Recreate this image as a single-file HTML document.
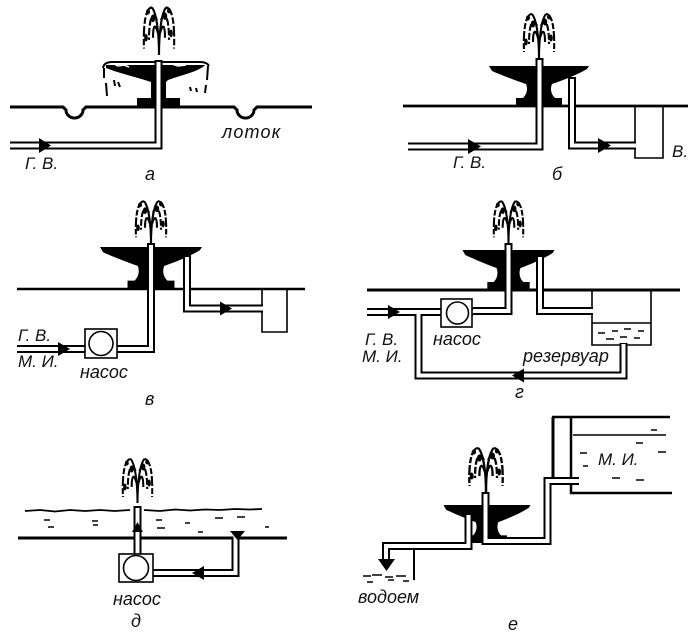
<!DOCTYPE html>
<html><head><meta charset="utf-8"><style>
html,body{margin:0;padding:0;background:#fff;}
svg{display:block;}
text{font-family:"Liberation Sans","DejaVu Sans",sans-serif;font-style:italic;fill:#111;}
.g{stroke:#000;fill:none;}
.po{stroke:#000;fill:none;stroke-width:8;stroke-linejoin:miter;}
.pi{stroke:#fff;fill:none;stroke-width:4;stroke-linejoin:miter;}
</style></head><body>
<svg width="700" height="638" viewBox="0 0 700 638" xmlns="http://www.w3.org/2000/svg">
<defs>
<g id="jet" fill="none" stroke="#000" stroke-width="2.1">
<path d="M0,0 C0,-18 -2,-38 -7,-44"/>
<path d="M0,0 C0,-18 2,-38 7,-44"/>
<path d="M-7,-44 C-13,-44 -16,-30 -15,-6" stroke-dasharray="10 2 6 2"/>
<path d="M7,-44 C13,-44 16,-30 15,-6" stroke-dasharray="10 2 6 2"/>
<path d="M-2,-32 C-5,-40 -10,-38 -10,-14" stroke-dasharray="7 2"/>
<path d="M2,-32 C5,-40 10,-38 10,-14" stroke-dasharray="7 2"/>
<path d="M-1,-20 C-3,-28 -6,-30 -6,-16"/>
<path d="M1,-20 C3,-28 6,-30 6,-16"/>
<ellipse cx="-6" cy="-34" rx="2.2" ry="3.5" fill="#000" stroke="none"/>
<ellipse cx="6" cy="-36" rx="2.2" ry="3.5" fill="#000" stroke="none"/>
<ellipse cx="-13" cy="-16" rx="1.8" ry="3.5" fill="#000" stroke="none"/>
<ellipse cx="12" cy="-20" rx="1.8" ry="3.5" fill="#000" stroke="none"/>
<ellipse cx="-11" cy="-40" rx="2" ry="2.5" fill="#000" stroke="none"/>
<ellipse cx="10" cy="-41" rx="2" ry="2.5" fill="#000" stroke="none"/>
</g>
<path id="bowl" d="M-50,-40 L50,-40 L48,-37 C38,-31 22,-25 13,-22 C11,-17 12,-12 16,-8 L23,-8 L23,0 L-23,0 L-23,-8 L-16,-8 C-12,-12 -11,-17 -13,-22 C-22,-25 -38,-31 -47,-35 Z" fill="#000"/>
</defs>

<!-- ===== Panel а ===== -->
<path class="g" stroke-width="3" d="M10,107 L63,107 L66,110 A8.5,8 0 0 0 83,110 L86,107 L234,107 L237,110 A8.5,8 0 0 0 254,110 L257,107 L312,107"/>
<path d="M106,65 L205,65 C200,71 182,75 168,80 L166,82 L166,98 L180,98 L180,108 L137,108 L137,98 L151,98 L151,82 C140,78 118,73 106,68 Z" fill="#000"/>
<path d="M114,64 l4,2 l6,-1 l5,2 M172,64 l6,2 l8,-1" stroke="#fff" stroke-width="1.5" fill="none"/>
<path class="g" stroke-width="2" d="M103,68 Q104,62 112,62 L200,62 Q207,62 209,66"/>
<path class="g" stroke-width="2" d="M104,68 L104,78 M106,83 L107,96 M208,66 L207,80 M206,85 L205,93 M114,80 l1,6 M118,82 l2,5 M190,87 l1,4 M196,88 l1,4"/>
<path class="po" stroke-width="7" d="M10,145.5 L158.5,145.5 L158.5,60"/>
<path class="pi" stroke-width="3" d="M10,145.5 L158.5,145.5 L158.5,62"/>
<polygon points="39,138 39,153 51,145.5" fill="#000"/>
<use href="#jet" transform="translate(159,55) scale(1,1.08)"/>
<text x="25" y="169" font-size="17">Г. В.</text>
<text x="222" y="138" font-size="18" letter-spacing="1.2">лоток</text>
<text x="145" y="180" font-size="18">а</text>

<!-- ===== Panel б ===== -->
<path class="g" stroke-width="2.8" d="M403,106 L688,106"/>
<use href="#bowl" transform="translate(539,106)"/>
<path class="g" stroke-width="1.6" d="M635,106 L635,158 L663,158 L663,106"/>
<path class="po" d="M408,146.5 L539.5,146.5 L539.5,58"/>
<path class="pi" d="M408,146.5 L539.5,146.5 L539.5,60"/>
<path class="po" d="M572,77 L572,145.5 L636,145.5"/>
<path class="pi" d="M572,79 L572,145.5 L637,145.5"/>
<polygon points="468,139 468,154 481,146.5" fill="#000"/>
<polygon points="598,138 598,153 611,145.5" fill="#000"/>
<use href="#jet" transform="translate(539,58)"/>
<text x="453" y="168" font-size="17">Г. В.</text>
<text x="672" y="157" font-size="17">В.</text>
<text x="552" y="180" font-size="18">б</text>

<!-- ===== Panel в ===== -->
<path class="g" stroke-width="2.5" d="M17,289 L305,289"/>
<use href="#bowl" transform="translate(151,289) scale(1.02,1.05)"/>
<path class="g" stroke-width="1.6" d="M262,289 L262,332 L287,332 L287,289"/>
<path class="po" d="M17,349 L151,349 L151,243"/>
<path class="pi" d="M17,349 L151,349 L151,245"/>
<path class="po" d="M187,255 L187,308.5 L263,308.5"/>
<path class="pi" d="M187,257 L187,308.5 L264,308.5"/>
<rect x="85" y="329" width="32" height="29" fill="#fff" stroke="#000" stroke-width="1.6"/>
<circle cx="101" cy="343.5" r="12" fill="#fff" stroke="#000" stroke-width="1.6"/>
<polygon points="58,342 58,356 70,349" fill="#000"/>
<polygon points="220,301.5 220,315.5 232,308.5" fill="#000"/>
<use href="#jet" transform="translate(151,243) scale(1,0.95)"/>
<text x="18" y="341" font-size="17">Г. В.</text>
<text x="18" y="367" font-size="17">М. И.</text>
<text x="80" y="378" font-size="18">насос</text>
<text x="145" y="405" font-size="18">в</text>

<!-- ===== Panel г ===== -->
<path class="g" stroke-width="3" d="M367,290 L680,290"/>
<use href="#bowl" transform="translate(508.5,290) scale(0.92,1)"/>
<path class="g" stroke-width="1.6" d="M592,290 L592,345 L651,345 L651,290"/>
<path class="g" stroke-width="1.4" d="M592,323 L651,323"/>
<path class="g" stroke-width="1.4" d="M598,333 l7,0 M612,331 l6,0 M624,329 l7,0 M638,331 l6,0 M606,339 l8,0 M620,337 l7,0 M634,338 l6,0"/>
<path class="po" d="M367,312 L473,312 M418.5,312 L418.5,375.5 L623.5,375.5 L623.5,343"/>
<path class="po" d="M473,311 L508.5,311 L508.5,243"/>
<path class="po" d="M540,255 L540,311 L593,311"/>
<path class="pi" d="M367,312 L473,312 M418.5,312 L418.5,375.5 L623.5,375.5 L623.5,344"/>
<path class="pi" d="M473,311 L508.5,311 L508.5,245"/>
<path class="pi" d="M540,257 L540,311 L594,311"/>
<rect x="441" y="299" width="31" height="28" fill="#fff" stroke="#000" stroke-width="1.6"/>
<circle cx="457.5" cy="313" r="11" fill="#fff" stroke="#000" stroke-width="1.6"/>
<polygon points="388,305 388,319 400,312" fill="#000"/>
<polygon points="524,368.5 524,382.5 512,375.5" fill="#000"/>
<use href="#jet" transform="translate(508.5,243) scale(0.97,0.95)"/>
<text x="365" y="345" font-size="17">Г. В.</text>
<text x="362" y="362" font-size="17">М. И.</text>
<text x="433" y="345" font-size="18">насос</text>
<text x="523" y="362" font-size="18">резервуар</text>
<text x="515" y="398" font-size="18">г</text>

<!-- ===== Panel д ===== -->
<path class="g" stroke-width="1.8" d="M25,511 L40,510 L55,511.5 L70,510 L85,511 L100,510 L115,511 L130,510 M144,510 L160,511 L175,509.5 L190,510.5 L205,509.5 L220,510 L235,509 L250,509.5 L262,509"/>
<path class="g" stroke-width="1.6" d="M44,520 l6,0 M48,527 l6,0 M92,521 l6,0 M93,525 l5,0 M156,520 l6,0 M157,528 l8,0 M185,523 l5,0 M198,532 l5,0 M215,518 l8,0 M237,517 l8,0 M265,527 l4,0"/>
<path class="g" stroke-width="3" d="M18,538 L287,538"/>
<path class="po" stroke-width="9" d="M137.5,506 L137.5,556"/>
<path class="pi" d="M137.5,508 L137.5,556"/>
<path class="po" d="M153,573 L235.5,573 L235.5,537"/>
<path class="pi" d="M152,573 L235.5,573 L235.5,536"/>
<polygon points="230,531 245,531 237.5,540" fill="#000"/>
<polygon points="132,532 143,532 137.5,522" fill="#000"/>
<polygon points="204,566 204,580 192,573" fill="#000"/>
<rect x="119" y="554" width="34" height="28" fill="#fff" stroke="#000" stroke-width="1.6"/>
<circle cx="136" cy="568" r="12.5" fill="#fff" stroke="#000" stroke-width="1.6"/>
<use href="#jet" transform="translate(137.5,503) scale(0.97,1)"/>
<text x="113" y="605" font-size="18">насос</text>
<text x="131" y="627" font-size="18">д</text>

<!-- ===== Panel е ===== -->
<path class="g" stroke-width="2.5" d="M552,417 L670,417"/>
<path class="g" stroke-width="3" d="M553,417 L553,477"/>
<path class="g" stroke-width="2.5" d="M571,417 L571,477 M571,485 L571,493 L672,493"/>
<path class="g" stroke-width="1.5" d="M573,435 L666,435"/>
<path class="g" stroke-width="1.5" d="M580,453 l7,0 M658,452 l8,0 M636,443 l7,0 M612,478 l8,0 M636,480 l8,0 M651,430 l6,0 M583,466 l5,0"/>
<use href="#bowl" transform="translate(487,543) scale(0.87,0.95)"/>
<path class="po" d="M579,481 L547.5,481 L547.5,541 L485.5,541 L485.5,492"/>
<path class="pi" d="M580,481 L547.5,481 L547.5,541 L485.5,541 L485.5,494"/>
<path class="po" d="M468.5,515 L468.5,546 L386,546 L386,561"/>
<path class="pi" d="M468.5,515 L468.5,546 L386,546 L386,561"/>
<polygon points="378,559 395,559 386.5,571" fill="#000"/>
<path class="g" stroke-width="2" d="M414,550 L414,580"/>
<path class="g" stroke-width="1.5" d="M363,576 l8,0 M372,575 l10,0 M385,577 l8,0 M396,576 l10,0 M367,582 l6,0 M388,580 l6,0 M403,581 l6,0"/>
<use href="#jet" transform="translate(486,492) scale(1.1,1)"/>
<text x="358" y="603" font-size="18">водоем</text>
<text x="598" y="465" font-size="17">М. И.</text>
<text x="508" y="630" font-size="18">е</text>
</svg>
</body></html>
